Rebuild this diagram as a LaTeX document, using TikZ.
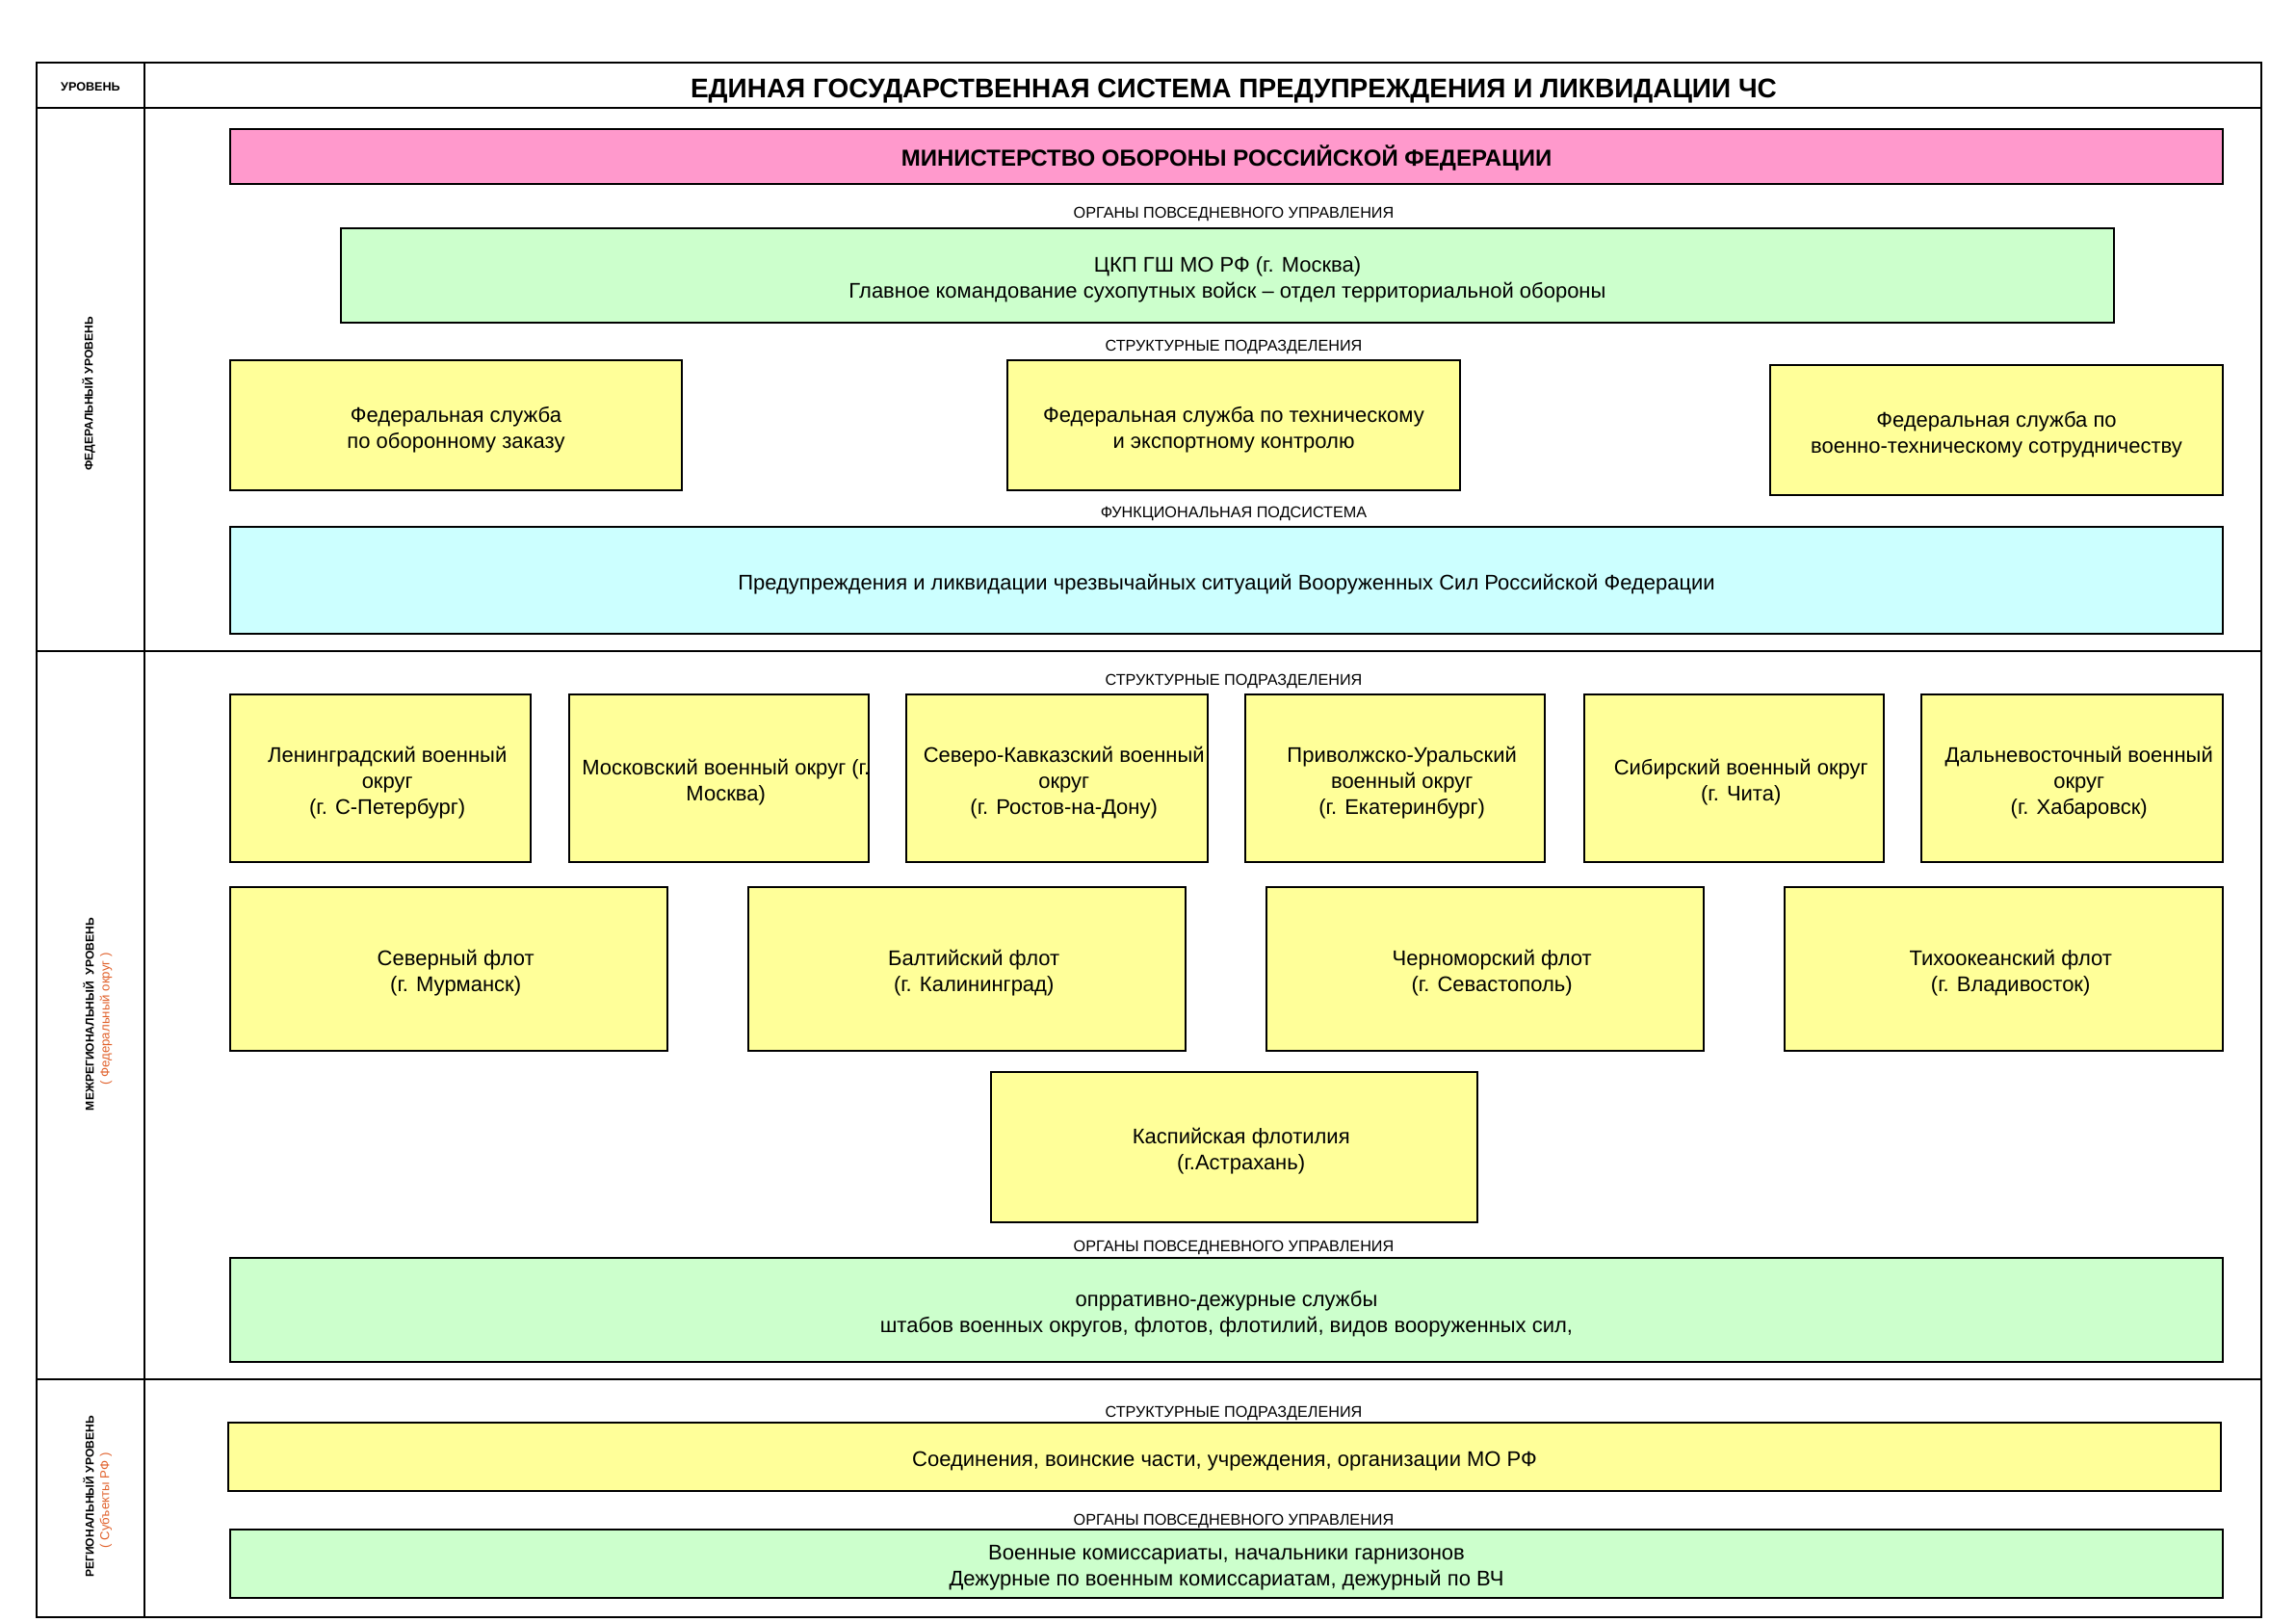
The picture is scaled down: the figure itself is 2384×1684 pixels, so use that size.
\documentclass[tikz,border=0pt]{standalone}
\usepackage{fontspec}
\setmainfont{Liberation Sans}
\definecolor{pinkc}{HTML}{FF99CC}
\definecolor{greenc}{HTML}{CCFFCC}
\definecolor{yellowc}{HTML}{FFFF99}
\definecolor{cyanc}{HTML}{CCFFFF}
\definecolor{orangec}{HTML}{E0602A}
\newcommand\mainfs{\fontsize{11}{13.4}\selectfont}
% \bx{name}{fill}{text style}{x1}{y1}{x2}{y2}{text}
\newcommand\bx[8]{%
  \pgfmathsetmacro\bxw{(#6-#4)*0.5}%
  \pgfmathsetmacro\bxh{(#7-#5)*0.5}%
  \node[box,fill=#2,minimum width=\bxw pt,minimum height=\bxh pt] (#1) at ({(#4+#6)/2},{(#5+#7)/2}) {};
  \node[boxtext,#3] (#1-t) at ([yshift=-2.2pt]#1.center) {#8};}
\begin{document}
\begin{tikzpicture}[x=0.5pt,y=-0.5pt,
 box/.style={draw=black,line width=0.6pt,inner sep=0pt},
 boxtext/.style={inner sep=0pt,align=center},
 mtext/.style={font=\mainfs},
 dtext/.style={font=\mainfs,xshift=3.6pt},
 ptext/.style={font=\bfseries\fontsize{12}{14}\selectfont,yshift=1.5pt},
 lbl/.style={inner sep=0pt,anchor=base,font=\fontsize{8.1}{9}\selectfont},
 frameline/.style={line width=0.8pt},
 vlbl/.style={rotate=90,inner sep=0pt,font=\bfseries\fontsize{6.05}{7}\selectfont},
 olbl/.style={rotate=90,inner sep=0pt,text=orangec,font=\fontsize{6.6}{7}\selectfont}]
\useasboundingbox (0,0) rectangle (2384,1684);
% frame
\draw[frameline] (38,65) rectangle (2348,1679);
\draw[frameline] (150,65) -- (150,1679);
\draw[frameline] (38,112) -- (2348,112);
\draw[frameline] (38,676) -- (2348,676);
\draw[frameline] (38,1432) -- (2348,1432);
% header
\node[inner sep=0pt,anchor=base,font=\bfseries\fontsize{6.3}{7}\selectfont] (lvl) at (94,95) {УРОВЕНЬ};
\node[inner sep=0pt,anchor=base,font=\bfseries\fontsize{14}{16}\selectfont] (title) at (1281,102) {ЕДИНАЯ ГОСУДАРСТВЕННАЯ СИСТЕМА ПРЕДУПРЕЖДЕНИЯ И ЛИКВИДАЦИИ ЧС};
% level labels
\node[vlbl] (fedl) at (92,409) {ФЕДЕРАЛЬНЫЙ УРОВЕНЬ};
\node[vlbl] (mrl) at (92,1053) {МЕЖРЕГИОНАЛЬНЫЙ\ \ УРОВЕНЬ};
\node[olbl] (mrl2) at (110,1058) {( Федеральный округ )};
\node[vlbl] (rgl) at (92,1554) {РЕГИОНАЛЬНЫЙ УРОВЕНЬ};
\node[olbl] (rgl2) at (110,1558) {( Субъекты РФ )};
% federal level
\bx{mo}{pinkc}{ptext}{239}{134}{2308}{191}{МИНИСТЕРСТВО ОБОРОНЫ РОССИЙСКОЙ ФЕДЕРАЦИИ}
\node[lbl] (l1) at (1281,226.5) {ОРГАНЫ ПОВСЕДНЕВНОГО УПРАВЛЕНИЯ};
\bx{ckp}{greenc}{mtext}{354}{237}{2195}{335}{ЦКП ГШ МО РФ (г. Москва)\\Главное командование сухопутных войск – отдел территориальной обороны}
\node[lbl] (l2) at (1281,364.5) {СТРУКТУРНЫЕ ПОДРАЗДЕЛЕНИЯ};
\bx{fs1}{yellowc}{mtext}{239}{374}{708}{509}{Федеральная служба\\по оборонному заказу}
\bx{fs2}{yellowc}{mtext}{1046}{374}{1516}{509}{Федеральная служба по техническому\\и экспортному контролю}
\bx{fs3}{yellowc}{mtext}{1838}{379}{2308}{514}{Федеральная служба по\\военно-техническому сотрудничеству}
\node[lbl] (l3) at (1281,537.5) {ФУНКЦИОНАЛЬНАЯ ПОДСИСТЕМА};
\bx{func}{cyanc}{mtext}{239}{547}{2308}{658}{Предупреждения и ликвидации чрезвычайных ситуаций Вооруженных Сил Российской Федерации}
% interregional level
\node[lbl] (l4) at (1281,711.5) {СТРУКТУРНЫЕ ПОДРАЗДЕЛЕНИЯ};
\bx{d1}{yellowc}{dtext}{239}{721}{551}{895}{Ленинградский военный\\округ\\(г. С-Петербург)}
\bx{d2}{yellowc}{dtext}{591}{721}{902}{895}{Московский военный округ (г.\\Москва)}
\bx{d3}{yellowc}{dtext}{941}{721}{1254}{895}{Северо-Кавказский военный\\округ\\(г. Ростов-на-Дону)}
\bx{d4}{yellowc}{dtext}{1293}{721}{1604}{895}{Приволжско-Уральский\\военный округ\\(г. Екатеринбург)}
\bx{d5}{yellowc}{dtext}{1645}{721}{1956}{895}{Сибирский военный округ\\(г. Чита)}
\bx{d6}{yellowc}{dtext}{1995}{721}{2308}{895}{Дальневосточный военный\\округ\\(г. Хабаровск)}
\bx{f1}{yellowc}{dtext}{239}{921}{693}{1091}{Северный флот\\(г. Мурманск)}
\bx{f2}{yellowc}{dtext}{777}{921}{1231}{1091}{Балтийский флот\\(г. Калининград)}
\bx{f3}{yellowc}{dtext}{1315}{921}{1769}{1091}{Черноморский флот\\(г. Севастополь)}
\bx{f4}{yellowc}{dtext}{1853}{921}{2308}{1091}{Тихоокеанский флот\\(г. Владивосток)}
\bx{casp}{yellowc}{dtext}{1029}{1113}{1534}{1269}{Каспийская флотилия\\(г.Астрахань)}
\node[lbl] (l5) at (1281,1299.5) {ОРГАНЫ ПОВСЕДНЕВНОГО УПРАВЛЕНИЯ};
\bx{ods}{greenc}{mtext}{239}{1306}{2308}{1414}{опрративно-дежурные службы\\штабов военных округов, флотов, флотилий, видов вооруженных сил,}
% regional level
\node[lbl] (l6) at (1281,1471.5) {СТРУКТУРНЫЕ ПОДРАЗДЕЛЕНИЯ};
\bx{units}{yellowc}{mtext}{237}{1477}{2306}{1548}{Соединения, воинские части, учреждения, организации МО РФ}
\node[lbl] (l7) at (1281,1583.5) {ОРГАНЫ ПОВСЕДНЕВНОГО УПРАВЛЕНИЯ};
\bx{vk}{greenc}{mtext}{239}{1588}{2308}{1659}{Военные комиссариаты, начальники гарнизонов\\Дежурные по военным комиссариатам, дежурный по ВЧ}
\end{tikzpicture}
\end{document}
